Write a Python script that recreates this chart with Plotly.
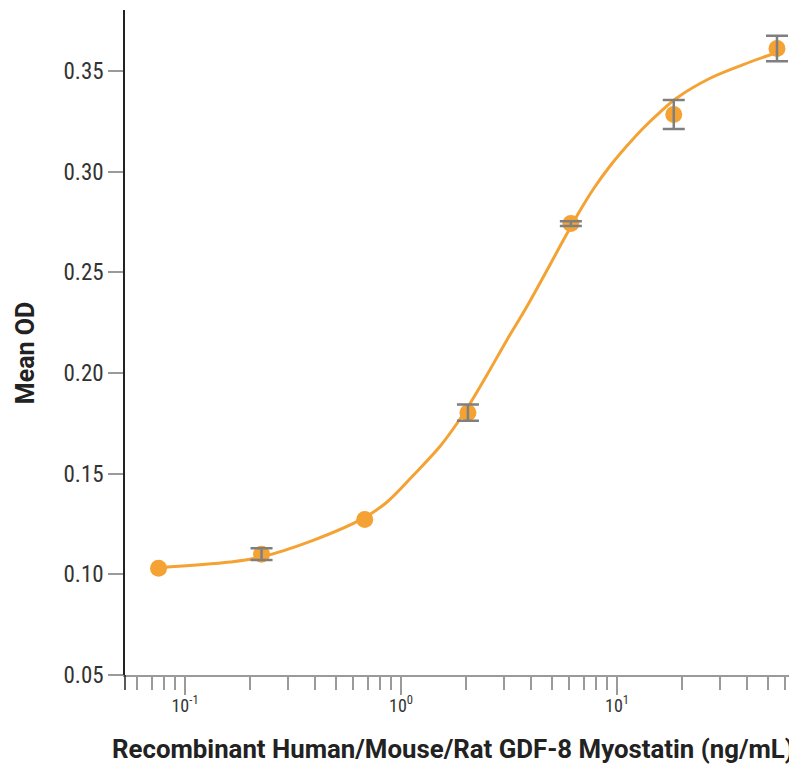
import plotly.graph_objects as go

# Measured points (3-fold dilution series)
conc = [0.0754, 0.226, 0.679, 2.04, 6.11, 18.3, 55.0]
mean_od = [0.1030, 0.1100, 0.1272, 0.1803, 0.2742, 0.3284, 0.3612]
err = [None, 0.0029, None, 0.0040, 0.0012, 0.0072, 0.0063]

# Fitted curve
curve_x = [0.0752, 0.1616, 0.2225, 0.3915, 0.667, 0.859, 1.140, 1.516, 1.811, 2.049,
           2.494, 3.087, 3.819, 5.85, 6.74, 7.77, 9.28, 11.09, 13.24, 15.82,
           18.90, 26.96, 38.4, 55.0]
curve_y = [0.1033, 0.1061, 0.1085, 0.1169, 0.1278, 0.1358, 0.1492, 0.1636, 0.1748, 0.1835,
           0.1989, 0.2163, 0.2329, 0.2690, 0.2807, 0.2914, 0.3028, 0.3127, 0.3217, 0.3296,
           0.3366, 0.3464, 0.3532, 0.3592]

x_tickvals = [0.1, 1, 10]
x_ticktext = ["10<sup>-1</sup>", "10<sup>0</sup>", "10<sup>1</sup>"]
y_tickvals = [0.05, 0.10, 0.15, 0.20, 0.25, 0.30, 0.35]
y_ticktext = ["0.05", "0.10", "0.15", "0.20", "0.25", "0.30", "0.35"]

x_title = "<b>Recombinant Human/Mouse/Rat GDF-8 Myostatin (ng/mL)</b>"
y_title = "<b>Mean OD</b>"

ORANGE = "#F4A233"
GREY = "#7f7f7f"
NARROW = "Noto Sans Condensed, Roboto Condensed, Liberation Sans Narrow, Roboto, sans-serif"
TITLEFONT = "Roboto, sans-serif"

# only points that carry an error bar
eb = [(c, m, e) for c, m, e in zip(conc, mean_od, err) if e is not None]
eb_x = [p[0] for p in eb]
eb_y = [p[1] for p in eb]
eb_e = [p[2] for p in eb]

fig = go.Figure()
fig.add_trace(go.Scatter(x=curve_x, y=curve_y, mode="lines",
                         line=dict(color=ORANGE, width=3, shape="spline", smoothing=1),
                         hoverinfo="skip", showlegend=False))
fig.add_trace(go.Scatter(x=conc, y=mean_od, mode="markers",
                         marker=dict(color=ORANGE, size=17), showlegend=False))
fig.add_trace(go.Scatter(x=eb_x, y=eb_y, mode="markers",
                         marker=dict(color="rgba(0,0,0,0)", size=1),
                         error_y=dict(type="data", array=eb_e, visible=True,
                                      color=GREY, thickness=2.5, width=11),
                         showlegend=False, hoverinfo="skip"))

fig.update_layout(
    width=789, height=761,
    margin=dict(l=117, r=0, t=2, b=94),
    plot_bgcolor="white", paper_bgcolor="white",
    font=dict(family=NARROW, color="#333333"),
    xaxis=dict(type="log", range=[-1.278, 1.833], automargin=False,
               tickvals=x_tickvals, ticktext=x_ticktext,
               ticks="outside", ticklen=18, tickwidth=1.5, tickcolor="#9a9a9a",
               ticklabelstandoff=-5,
               minor=dict(ticks="outside", ticklen=13, tickwidth=1.5, tickcolor="#9a9a9a",
                          dtick="D1", showgrid=False),
               showline=True, linecolor="#9a9a9a", linewidth=2,
               showgrid=False, zeroline=False,
               tickfont=dict(size=18, family=NARROW, color="#333333")),
    yaxis=dict(range=[0.05, 0.3803], automargin=False,
               tickvals=y_tickvals, ticktext=y_ticktext,
               ticks="outside", ticklen=15, tickwidth=1.5, tickcolor="#9a9a9a",
               showline=True, linecolor="#222222", linewidth=1.5,
               showgrid=False, zeroline=False,
               tickfont=dict(size=23, family=NARROW, color="#333333")),
    shapes=[dict(type="line", xref="paper", yref="paper", x0=0, x1=0, y0=0, y1=-0.0226,
                 line=dict(color="#222222", width=1.5))],
    annotations=[
        dict(text=x_title, xref="paper", yref="paper", x=0.4880, y=-0.1113,
             xanchor="center", yanchor="middle", showarrow=False,
             font=dict(size=25.8, family=TITLEFONT, color="#222222")),
        dict(text=y_title, xref="paper", yref="paper", x=-0.1488, y=0.484,
             xanchor="center", yanchor="middle", showarrow=False, textangle=-90,
             font=dict(size=25, family=TITLEFONT, color="#222222")),
    ],
)

fig.write_html("out.html")
